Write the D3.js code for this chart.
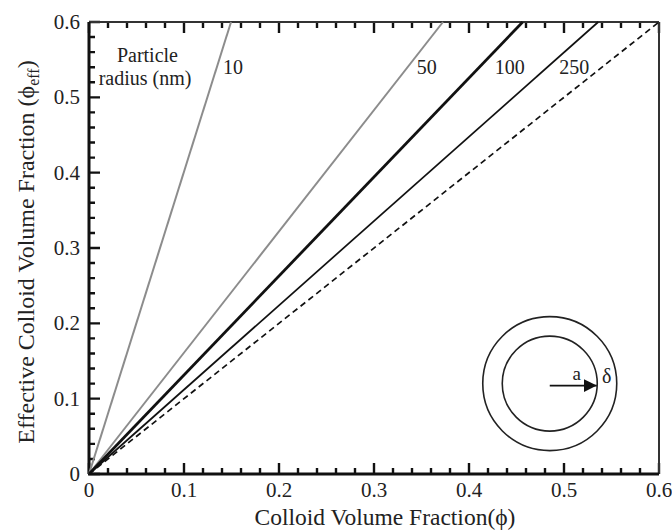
<!DOCTYPE html>
<html>
<head>
<meta charset="utf-8">
<script src="https://cdn.jsdelivr.net/npm/d3@7"></script>
<style>
  body { margin: 0; background: #fff; }
  svg text { font-family: "Liberation Serif", "Times New Roman", serif; fill: #222; }
</style>
</head>
<body>
<div id="container"></div>
<script>
/* CONSTANTS AND GLOBALS */
const width = 672,
  height = 531,
  margin = { top: 22, right: 13, bottom: 57, left: 89 };

// tick values for both axes
const xTicks = [0, 0.1, 0.2, 0.3, 0.4, 0.5, 0.6];
const yTicks = [0, 0.1, 0.2, 0.3, 0.4, 0.5, 0.6];

// lines: [phi, phi_eff]
const radii = ["10", "50", "100", "250"];
const line10 = [[0, 0], [0.1495, 0.6]];
const line50 = [[0, 0], [0.3726, 0.6]];
const line100 = [[0, 0], [0.4565, 0.6]];
const line250 = [[0, 0], [0.536, 0.6]];
const lineRef = [[0, 0], [0.6, 0.6]];

// where each radius label sits (x, y in data units)
const labelPos = [[0.141, 0.531], [0.345, 0.531], [0.427, 0.531], [0.495, 0.531]];

const series = [
  { name: "10", values: line10, color: "#8c8c8c", w: 2, dash: null },
  { name: "50", values: line50, color: "#8c8c8c", w: 2, dash: null },
  { name: "100", values: line100, color: "#111", w: 2.8, dash: null },
  { name: "250", values: line250, color: "#111", w: 1.7, dash: null },
  { name: "ref", values: lineRef, color: "#111", w: 1.7, dash: "6,4" }
];

/* SCALES */
const xScale = d3.scaleLinear()
  .domain([0, 0.6])
  .range([margin.left, width - margin.right]);

const yScale = d3.scaleLinear()
  .domain([0, 0.6])
  .range([height - margin.bottom, margin.top]);

const svg = d3.select("#container")
  .append("svg")
  .attr("width", width)
  .attr("height", height)
  .attr("font-family", "Liberation Serif, serif");

const minor = d3.range(0, 0.6001, 0.02);
const x0 = xScale(0), x1 = xScale(0.6), y0 = yScale(0), y1 = yScale(0.6);
const isMajor = v => Math.abs(v * 10 - Math.round(v * 10)) < 1e-6;

// ticks as path segments, drawn inward (no ticks on the right side)
const tickPath = d3.path();
minor.forEach(v => {
  const len = isMajor(v) ? 11 : 6;
  tickPath.moveTo(xScale(v), y0); tickPath.lineTo(xScale(v), y0 - len);
  tickPath.moveTo(xScale(v), y1); tickPath.lineTo(xScale(v), y1 + len);
  tickPath.moveTo(x0, yScale(v)); tickPath.lineTo(x0 + len, yScale(v));
});
svg.append("path")
  .attr("d", tickPath.toString())
  .attr("fill", "none")
  .attr("stroke", "#111")
  .attr("stroke-width", 2.4);

// tick labels
svg.selectAll(".xlab").data(xTicks).join("text")
  .attr("class", "xlab")
  .attr("x", d => xScale(d)).attr("y", y0 + 23)
  .attr("text-anchor", "middle").attr("font-size", 21)
  .text(d => d === 0 ? "0" : d3.format(".1f")(d));
svg.selectAll(".ylab").data(yTicks).join("text")
  .attr("class", "ylab")
  .attr("x", x0 - 9).attr("y", d => yScale(d) + 7)
  .attr("text-anchor", "end").attr("font-size", 21)
  .text(d => d === 0 ? "0" : d3.format(".1f")(d));

// frame
svg.append("line").attr("x1", x0).attr("x2", x1).attr("y1", y1).attr("y2", y1).attr("stroke", "#333").attr("stroke-width", 2);
svg.append("line").attr("x1", x1).attr("x2", x1).attr("y1", y1).attr("y2", y0).attr("stroke", "#333").attr("stroke-width", 2);
svg.append("line").attr("x1", x0 - 1).attr("x2", x1).attr("y1", y0).attr("y2", y0).attr("stroke", "#111").attr("stroke-width", 3);
svg.append("line").attr("x1", x0).attr("x2", x0).attr("y1", y1).attr("y2", y0).attr("stroke", "#111").attr("stroke-width", 3);

/* LINES */
const lineGen = d3.line()
  .x(d => xScale(d[0]))
  .y(d => yScale(d[1]));

svg.selectAll(".series")
  .data(series)
  .join("path")
  .attr("class", "series")
  .attr("d", d => lineGen(d.values))
  .attr("fill", "none")
  .attr("stroke", d => d.color)
  .attr("stroke-width", d => d.w)
  .attr("stroke-dasharray", d => d.dash);

// radius labels
svg.selectAll(".rlabel")
  .data(radii)
  .join("text")
  .attr("class", "rlabel")
  .attr("x", (d, i) => xScale(labelPos[i][0]))
  .attr("y", (d, i) => yScale(labelPos[i][1]))
  .attr("font-size", 20)
  .text(d => d);

svg.append("text")
  .attr("x", xScale(0.0615)).attr("y", yScale(0.547))
  .attr("text-anchor", "middle").attr("font-size", 20)
  .text("Particle");
svg.append("text")
  .attr("x", xScale(0.059)).attr("y", yScale(0.516))
  .attr("text-anchor", "middle").attr("font-size", 20)
  .text("radius (nm)");

/* INSET: particle with shell */
const cx = xScale(0.485), cy = yScale(0.12);
svg.append("circle").attr("cx", cx).attr("cy", cy).attr("r", 67)
  .attr("fill", "none").attr("stroke", "#222").attr("stroke-width", 1.6);
svg.append("circle").attr("cx", cx).attr("cy", cy).attr("r", 47.5)
  .attr("fill", "none").attr("stroke", "#222").attr("stroke-width", 1.6);
svg.append("defs").append("marker")
  .attr("id", "arrow").attr("viewBox", "0 0 10 10")
  .attr("refX", 10).attr("refY", 5)
  .attr("markerWidth", 13).attr("markerHeight", 13)
  .attr("markerUnits", "userSpaceOnUse")
  .attr("orient", "auto")
  .append("path").attr("d", "M0,0L10,5L0,10Z").attr("fill", "#111");
svg.append("line")
  .attr("x1", cx).attr("y1", cy + 2).attr("x2", cx + 47).attr("y2", cy + 2)
  .attr("stroke", "#111").attr("stroke-width", 1.6)
  .attr("marker-end", "url(#arrow)");
svg.append("text").attr("x", cx + 27).attr("y", cy - 4)
  .attr("text-anchor", "middle").attr("font-size", 19).text("a");
svg.append("text").attr("x", cx + 57).attr("y", cy - 1)
  .attr("text-anchor", "middle").attr("font-size", 20).text("δ");

/* AXIS LABELS */
svg.append("text")
  .attr("x", 385).attr("y", 525)
  .attr("text-anchor", "middle").attr("font-size", 23.5)
  .text("Colloid Volume Fraction(ϕ)");

const yLabel = svg.append("text")
  .attr("transform", `translate(34, 252) rotate(-90)`)
  .attr("text-anchor", "middle").attr("font-size", 24);
yLabel.append("tspan").text("Effective Colloid Volume Fraction (ϕ");
yLabel.append("tspan").attr("font-size", 16).attr("dy", 5).text("eff");
yLabel.append("tspan").attr("dy", -5).text(")");
</script>
</body>
</html>
